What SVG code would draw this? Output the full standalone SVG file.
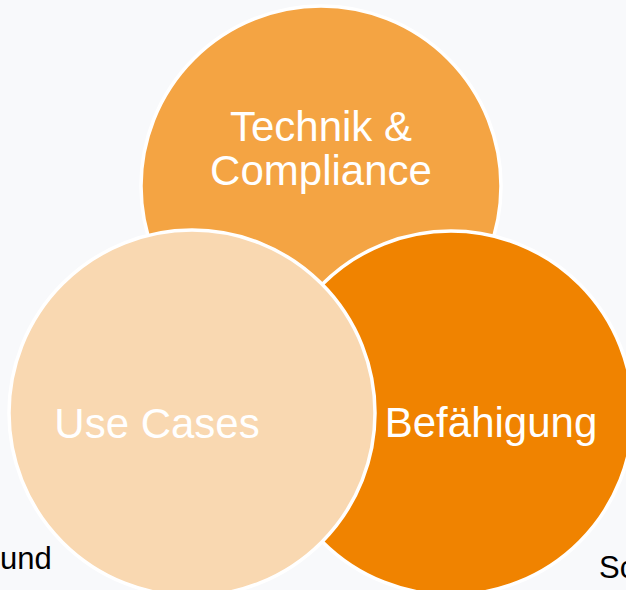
<svg xmlns="http://www.w3.org/2000/svg" width="626" height="590" viewBox="0 0 626 590">
  <style>
    .c { stroke: #ffffff; stroke-width: 3.5; }
    .lbl { font-family: "Liberation Sans", Arial, sans-serif; font-size: 42px; fill: #ffffff; text-anchor: middle; }
    .side { font-family: "Liberation Sans", Arial, sans-serif; font-size: 31px; fill: #000000; }
  </style>
  <rect x="0" y="0" width="626" height="590" fill="#f8f9fb"/>
  <g id="technik">
    <circle class="c" cx="321" cy="186" r="180" fill="#f4a443"/>
    <text class="lbl" x="321" y="141">Technik &amp;</text>
    <text class="lbl" x="321" y="185">Compliance</text>
  </g>
  <g id="befaehigung">
    <circle class="c" cx="451" cy="413" r="182" fill="#f08300"/>
    <text class="lbl" x="491" y="437">Befähigung</text>
  </g>
  <g id="usecases">
    <circle class="c" cx="192" cy="413" r="183" fill="#f9d8b1"/>
    <text class="lbl" x="157" y="438">Use Cases</text>
  </g>
  <g id="connectors"></g>
  <text class="side" x="0" y="569">und</text>
  <text class="side" x="599" y="578">Sc</text>
</svg>
